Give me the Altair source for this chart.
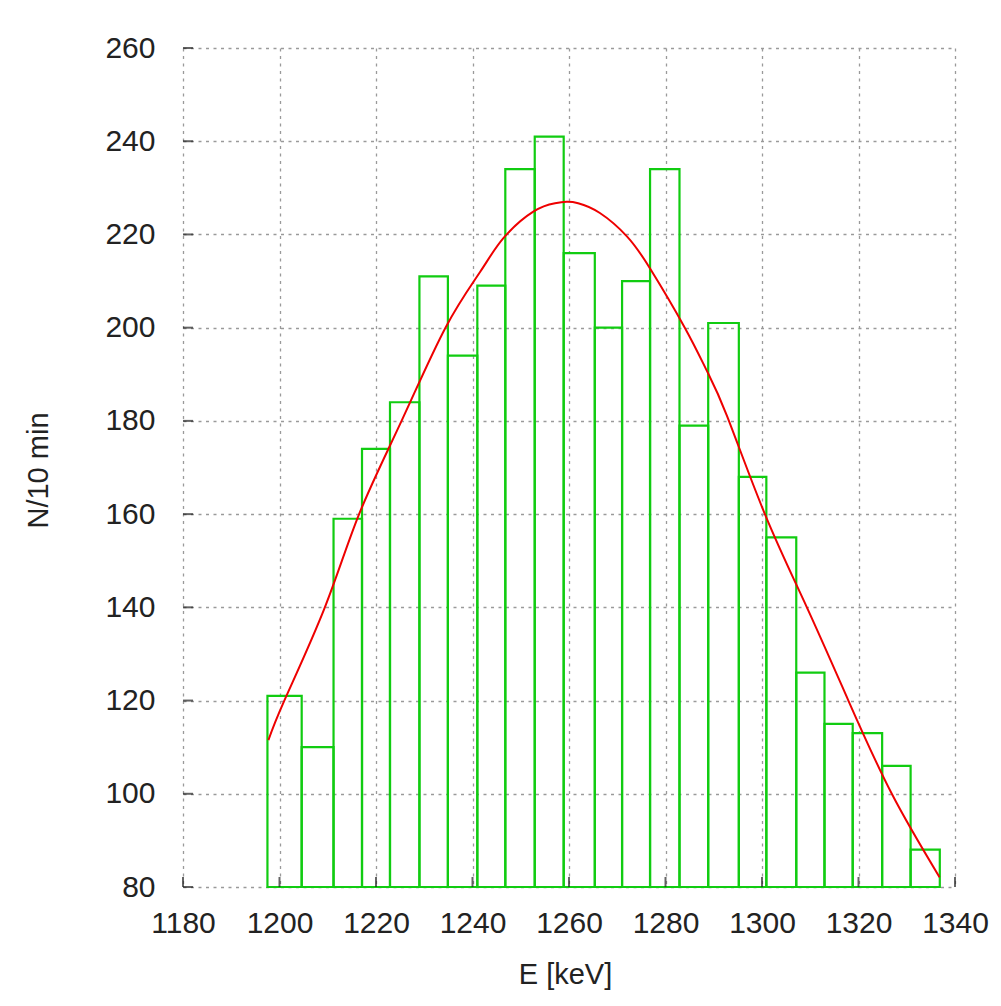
import altair as alt
import pandas as pd

# histogram bin edges (keV) and counts per 10 min
edges = [1197.5, 1204.6, 1211.2, 1217.1, 1222.9, 1229.0, 1234.9, 1241.0,
         1246.8, 1252.9, 1258.9, 1265.35, 1271.0, 1276.8, 1282.9, 1288.85,
         1295.2, 1300.9, 1307.1, 1312.95, 1318.8, 1324.9, 1330.8, 1336.85]
counts = [121, 110, 159, 174, 184, 211, 194, 209, 234, 241, 216, 200,
          210, 234, 179, 201, 168, 155, 126, 115, 113, 106, 88]

# fitted curve
fit_e = [1197.7, 1201.0, 1209.4, 1216.5, 1225.3, 1234.4, 1241.6, 1246.4,
         1252.6, 1257.1, 1259.5, 1261.9, 1266.4, 1272.0, 1276.8, 1284.0,
         1288.5, 1292.7, 1300.6, 1309.3, 1317.9, 1326.9, 1336.8]
fit_n = [111.5, 120, 140, 160, 180, 200, 212.0, 219.2,
         224.9, 226.7, 227.0, 226.7, 224.6, 219.6, 212.7, 200,
         190.9, 181.2, 160, 140, 120, 100, 82.1]

x_ticks = list(range(1180, 1341, 20))
y_ticks = list(range(80, 261, 20))

bars = pd.DataFrame({"lo": edges[:-1], "hi": edges[1:], "n": counts,
                     "base": [80] * len(counts)})
fit = pd.DataFrame({"E": fit_e, "N": fit_n})
xt = pd.DataFrame({"E": x_ticks, "N": [80] * len(x_ticks)})
yt = pd.DataFrame({"E": [1180] * len(y_ticks), "N": y_ticks})

FONT = "Liberation Sans"
xscale = alt.Scale(domain=[1180, 1340], nice=False, zero=False)
yscale = alt.Scale(domain=[80, 260], nice=False, zero=False)

xaxis = alt.Axis(values=x_ticks, format="d", title="E [keV]", grid=True,
                 domain=False, ticks=False, labelPadding=21, labelFontSize=30,
                 labelFont=FONT, labelColor="#222222", titleFont=FONT,
                 titleFontSize=29, titleFontWeight="normal",
                 titleColor="#222222", titleX=382, titleY=87,
                 titleBaseline="middle",
                 gridColor="#9a9a9a", gridDash=[3, 4.5], gridWidth=1.3,
                 labelFlush=False, labelOverlap=False)
yaxis = alt.Axis(values=y_ticks, format="d", title="N/10 min", grid=True,
                 domain=False, ticks=False, labelPadding=28, labelFontSize=30,
                 labelFont=FONT, labelColor="#222222", titleFont=FONT,
                 titleFontSize=29, titleFontWeight="normal",
                 titleColor="#222222",
                 titleX=-145, titleY=422, titleAlign="center",
                 titleBaseline="middle", titleAngle=270,
                 gridColor="#9a9a9a", gridDash=[3, 4.5], gridWidth=1.3,
                 labelFlush=False, labelOverlap=False)

X = lambda f: alt.X(f, type="quantitative", scale=xscale, axis=xaxis)
Y = lambda f: alt.Y(f, type="quantitative", scale=yscale, axis=yaxis)

hist = alt.Chart(bars).mark_rect(fill="white", fillOpacity=0, stroke="#11cc11",
                                 strokeWidth=2.2).encode(
    x=X("lo"), x2="hi", y=Y("n"), y2="base")

curve = alt.Chart(fit).mark_line(color="#ee0000", strokeWidth=2,
                                 interpolate="natural").encode(
    x=X("E"), y=Y("N"))

xtick = alt.Chart(xt).mark_tick(orient="vertical", size=10, thickness=2,
                                color="#222222", yOffset=-5).encode(
    x=X("E"), y=Y("N"))
ytick = alt.Chart(yt).mark_tick(orient="horizontal", size=10, thickness=2,
                                color="#222222", xOffset=5).encode(
    x=X("E"), y=Y("N"))

chart = alt.layer(hist, curve, xtick, ytick).properties(
    width=772, height=839,
    autosize=alt.AutoSizeParams(type="none"),
    padding={"left": 175, "top": 40, "right": 36, "bottom": 104},
    background="white",
).configure_view(stroke=None)

chart.save("out.html", embed_options={"renderer": "svg", "actions": False})
